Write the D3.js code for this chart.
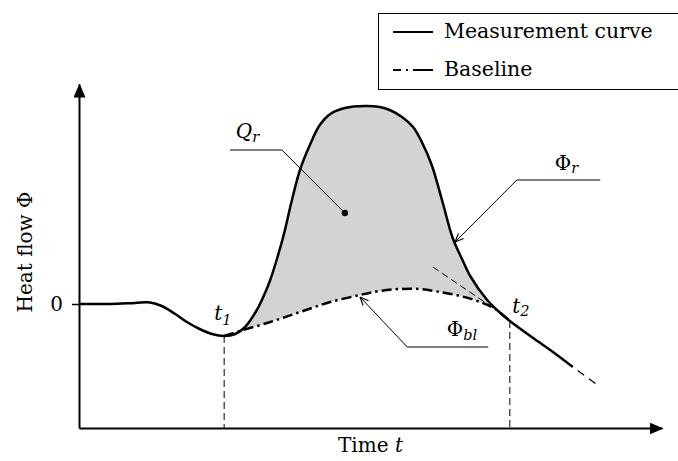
<!DOCTYPE html>
<html>
<head>
<meta charset="utf-8">
<script src="https://cdn.jsdelivr.net/npm/d3@7"></script>
<style>
    body { margin: 0; background: #fff; }
    svg text { font-family: "DejaVu Serif", "Liberation Serif", serif; fill: #000; }
</style>
</head>
<body>
<svg id="chart" width="678" height="461"></svg>
<script>

// measurement curve (time, heat flow)
let measT = [0, 0.53, 0.96, 1.22, 1.42, 1.65, 1.85, 2.07, 2.28, 2.49, 2.68, 2.85, 3.05, 3.19, 3.28, 3.40, 3.52, 3.64, 3.79, 3.96,
    4.13, 4.31, 4.56, 4.91, 5.16, 5.33, 5.54, 5.73, 5.88, 6.05, 6.24, 6.41, 6.57, 6.71, 7.00, 7.19, 7.39, 7.79, 8.13, 8.47];
let measPhi = [0, 0, 0.05, 0.08, -0.1, -0.5, -0.9, -1.25, -1.5, -1.6, -1.5, -1.15, -0.3, 0.55, 1.2, 2.3, 3.55, 5.05, 6.7, 7.95,
    8.95, 9.5, 9.8, 9.9, 9.85, 9.7, 9.35, 8.85, 8.1, 6.95, 5.05, 3.3, 2.25, 1.4, 0.2, -0.35, -0.85, -1.7, -2.4, -3.15];
// dashed continuation of the measurement curve
let extT = [8.47, 8.94];
let extPhi = [-3.15, -4.15];

// baseline between t1 and t2
let baseT = [2.49, 2.76, 3.28, 3.79, 4.31, 4.82, 5.16, 5.51, 5.85, 6.19, 6.54, 6.88, 7.14, 7.39];
let basePhi = [-1.6, -1.35, -0.9, -0.4, 0.1, 0.45, 0.65, 0.75, 0.75, 0.6, 0.4, 0.1, -0.25, -0.85];

// tangent drawn near t2
let tangentT = [6.07, 7.31];
let tangentPhi = [1.85, -0.6];

let t1 = 2.49, t2 = 7.39;
let t1Phi = -1.6, t2Phi = -0.85;

let yTicks = [0];
let legendLabels = ["Measurement curve", "Baseline"];

// annotation anchors (time, heat flow)
let qrLeaderT = [2.59, 3.48, 4.56];
let qrLeaderPhi = [7.7, 7.7, 4.55];
let phiRLeaderT = [8.94, 7.51, 6.45];
let phiRLeaderPhi = [6.2, 6.2, 3.1];
let phiBlLeaderT = [7.02, 5.63, 4.82];
let phiBlLeaderPhi = [-2.15, -2.15, 0.35];

let svg = d3.select("#chart");

let xScale = d3.scaleLinear().domain([0, 10]).range([79, 662]);
let yScale = d3.scaleLinear().domain([-6.2, 11]).range([428, 84]);

function zip(a, b) {
    return a.map(function (d, i) { return [d, b[i]]; });
}

let meas = zip(measT, measPhi);
let base = zip(baseT, basePhi);

let line = d3.line()
    .x(function (d) { return xScale(d[0]); })
    .y(function (d) { return yScale(d[1]); })
    .curve(d3.curveCatmullRom.alpha(0.5));

let straight = d3.line()
    .x(function (d) { return xScale(d[0]); })
    .y(function (d) { return yScale(d[1]); });

// markers
let defs = svg.append("defs");
defs.append("marker")
    .attr("id", "axisArrow")
    .attr("markerUnits", "userSpaceOnUse")
    .attr("viewBox", "0 0 14 12")
    .attr("markerWidth", 14).attr("markerHeight", 12)
    .attr("refX", 13).attr("refY", 6)
    .attr("orient", "auto")
    .append("path").attr("d", "M0,0L14,6L0,12Z").attr("fill", "#000");

defs.append("marker")
    .attr("id", "leaderArrow")
    .attr("markerUnits", "userSpaceOnUse")
    .attr("viewBox", "0 0 10 10")
    .attr("markerWidth", 9).attr("markerHeight", 9)
    .attr("refX", 9.5).attr("refY", 5)
    .attr("orient", "auto")
    .append("path").attr("d", "M0,1L9.5,5L0,9")
    .attr("fill", "none").attr("stroke", "#000").attr("stroke-width", 1.3);

// shaded area between measurement curve and baseline
let i1 = measT.indexOf(t1), i2 = measT.indexOf(t2);
let topPath = line(meas.slice(i1, i2 + 1));
let bottomPath = line(base.slice().reverse()).replace(/^M/, "L");
svg.append("path")
    .attr("d", topPath + bottomPath + "Z")
    .attr("fill", "#d3d3d3");

// vertical dashed lines at t1 and t2
svg.selectAll(".tline")
    .data([[t1, t1Phi], [t2, t2Phi]])
    .enter().append("line")
    .attr("x1", function (d) { return xScale(d[0]); })
    .attr("x2", function (d) { return xScale(d[0]); })
    .attr("y1", function (d) { return yScale(d[1]); })
    .attr("y2", yScale(-6.2))
    .attr("stroke", "#000").attr("stroke-width", 1)
    .attr("stroke-dasharray", "7,4");

// tangent
svg.append("path")
    .attr("d", straight(zip(tangentT, tangentPhi)))
    .attr("stroke", "#000").attr("stroke-width", 1)
    .attr("stroke-dasharray", "7,4").attr("fill", "none");

// baseline
svg.append("path")
    .attr("d", line(base))
    .attr("fill", "none").attr("stroke", "#000").attr("stroke-width", 2.5)
    .attr("stroke-dasharray", "10,4,2.5,4");

// measurement curve
svg.append("path")
    .attr("d", line(meas))
    .attr("fill", "none").attr("stroke", "#000").attr("stroke-width", 2.5);

svg.append("path")
    .attr("d", straight(zip(extT, extPhi)))
    .attr("fill", "none").attr("stroke", "#000").attr("stroke-width", 1.3)
    .attr("stroke-dasharray", "8,6").attr("stroke-dashoffset", 8);

// axes
let yAxis = d3.axisLeft(yScale).tickValues(yTicks).tickSize(7).tickPadding(9).tickSizeOuter(0);
let yG = svg.append("g").attr("transform", "translate(" + xScale(0) + ",0)").call(yAxis);
yG.select(".domain").attr("stroke-width", 2).attr("marker-end", "url(#axisArrow)");
yG.selectAll(".tick line").attr("stroke-width", 1.5);
yG.selectAll(".tick text")
    .style("font-family", "'DejaVu Serif', serif").style("font-size", "20px")
    .text(function (d) { return d; });

let xAxis = d3.axisBottom(xScale).tickValues([]).tickSizeOuter(0);
let xG = svg.append("g").attr("transform", "translate(0," + yScale(-6.2) + ")").call(xAxis);
xG.select(".domain").attr("stroke-width", 2).attr("marker-end", "url(#axisArrow)");

// axis titles
let xTitle = svg.append("text")
    .attr("x", xScale(5)).attr("y", 452)
    .attr("text-anchor", "middle").style("font-size", "20px");
xTitle.append("tspan").text("Time ");
xTitle.append("tspan").style("font-style", "italic").text("t");

svg.append("text")
    .attr("transform", "translate(32," + yScale(2.6) + ") rotate(-90)")
    .attr("text-anchor", "middle").style("font-size", "20px")
    .text("Heat flow Φ");

// t1 / t2 / Q / Φ labels with subscripts
function subLabel(t, phi, main, sub, mainItalic, dy) {
    let txt = svg.append("text")
        .attr("x", xScale(t)).attr("y", yScale(phi))
        .style("font-size", "20px");
    txt.append("tspan").style("font-style", mainItalic ? "italic" : "normal").text(main);
    txt.append("tspan").attr("dy", dy).style("font-size", "14.5px").style("font-style", "italic").text(sub);
    return txt;
}
subLabel(2.32, -0.8, "t", "1", true, 5);
subLabel(7.43, -0.45, "t", "2", true, 3);
subLabel(2.69, 8.3, "Q", "r", true, 4);
subLabel(8.16, 6.7, "Φ", "r", false, 3);
subLabel(6.31, -1.6, "Φ", "bl", false, 4);

// leaders
svg.append("path")
    .attr("d", straight(zip(qrLeaderT, qrLeaderPhi)))
    .attr("fill", "none").attr("stroke", "#000").attr("stroke-width", 1);
svg.append("circle")
    .attr("cx", xScale(qrLeaderT[2])).attr("cy", yScale(qrLeaderPhi[2]))
    .attr("r", 3.2).attr("fill", "#000");

svg.append("path")
    .attr("d", straight(zip(phiRLeaderT, phiRLeaderPhi)))
    .attr("fill", "none").attr("stroke", "#000").attr("stroke-width", 1)
    .attr("marker-end", "url(#leaderArrow)");

svg.append("path")
    .attr("d", straight(zip(phiBlLeaderT, phiBlLeaderPhi)))
    .attr("fill", "none").attr("stroke", "#000").attr("stroke-width", 1)
    .attr("marker-end", "url(#leaderArrow)");

// legend
let legend = svg.append("g").attr("transform", "translate(378,13)");
legend.append("rect")
    .attr("x", 0.5).attr("y", 0.5).attr("width", 320).attr("height", 76)
    .attr("fill", "#fff").attr("stroke", "#000").attr("stroke-width", 1);

let items = legend.selectAll(".item")
    .data(legendLabels)
    .enter().append("g")
    .attr("transform", function (d, i) { return "translate(0," + (19 + i * 38) + ")"; });

items.append("line")
    .attr("x1", 15).attr("x2", 55).attr("y1", 0).attr("y2", 0)
    .attr("stroke", "#000").attr("stroke-width", 2)
    .attr("stroke-dasharray", function (d, i) { return i == 0 ? null : "8,5,2,5,20"; });

items.append("text")
    .attr("x", 66).attr("y", 6)
    .style("font-size", "20.5px")
    .text(function (d) { return d; });

</script>
</body>
</html>
